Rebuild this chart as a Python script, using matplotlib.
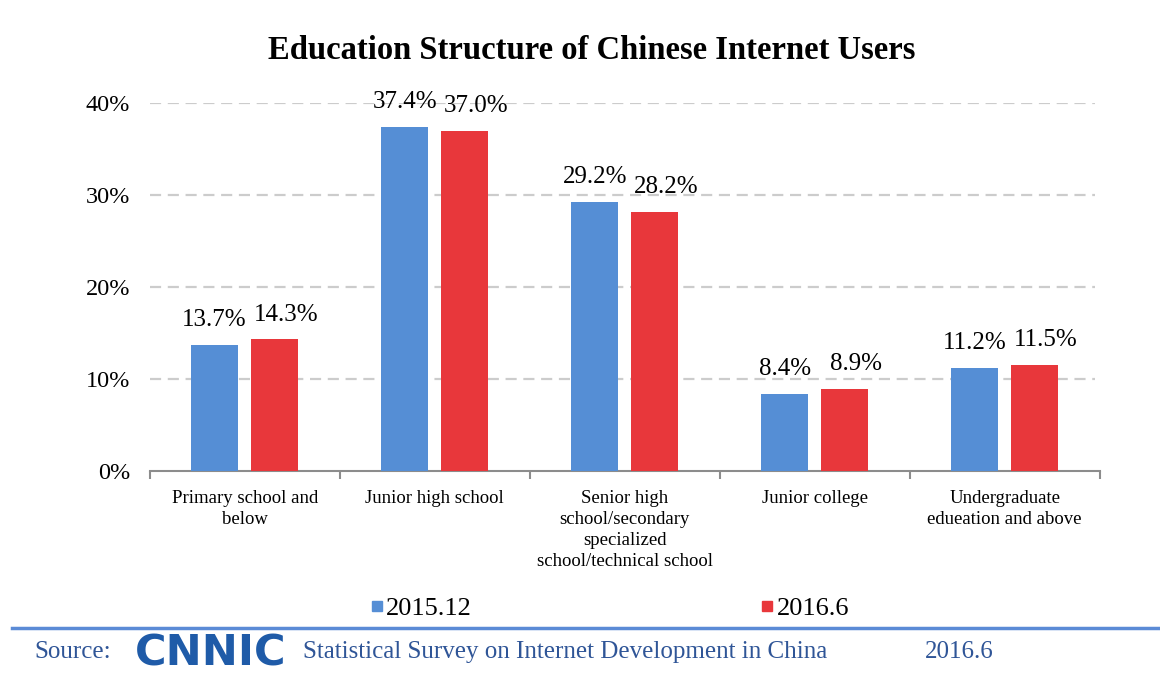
import numpy as np
import matplotlib.pyplot as plt
from matplotlib.lines import Line2D

categories = ["Primary school and\nbelow", "Junior high school",
              "Senior high\nschool/secondary\nspecialized\nschool/technical school",
              "Junior college", "Undergraduate\nedueation and above"]
series_names = ["2015.12", "2016.6"]
values_2015 = [13.7, 37.4, 29.2, 8.4, 11.2]
values_2016 = [14.3, 37.0, 28.2, 8.9, 11.5]
yticks = [0, 10, 20, 30, 40]

blue = "#558ED5"
red = "#E8373B"
footer_blue = "#2F5597"
serif = "Liberation Serif"

fig = plt.figure(figsize=(11.6, 6.76), dpi=100)
ax = fig.add_axes([0.129, 0.3033, 0.819, 0.5444])

x = np.arange(len(categories))
w = 0.245
off = 0.158
ax.bar(x - off, values_2015, w, color=blue, zorder=3)
ax.bar(x + off, values_2016, w, color=red, zorder=3)

# value labels (red ones sit a little to the right, as in the original)
for xi, v in zip(x, values_2015):
    ax.annotate(f"{v:.1f}%", (xi - off, v), xytext=(0, 10), textcoords="offset points",
                ha="center", va="bottom", fontsize=18, family=serif)
for xi, v in zip(x, values_2016):
    ax.annotate(f"{v:.1f}%", (xi + off, v), xytext=(8, 10), textcoords="offset points",
                ha="center", va="bottom", fontsize=18, family=serif)

ax.set_xlim(-0.5, len(categories) - 0.5)
ax.set_ylim(0, 40)
ax.set_yticks(yticks)
ax.set_yticklabels([f"{t}%" for t in yticks], family=serif, fontsize=17.5)
ax.tick_params(axis="y", length=0, pad=14)
for t in yticks[1:]:
    ax.axhline(t, xmax=0.995, color="#cccccc", lw=1.6, ls=(0, (5, 3)), zorder=1)

ax.set_xticks(x)
ax.set_xticklabels(categories, family=serif, fontsize=13.5, linespacing=1.3,
                   va="top")
ax.tick_params(axis="x", length=0, pad=14)
ax.set_xticks(np.arange(len(categories) + 1) - 0.5, minor=True)
ax.tick_params(axis="x", which="minor", length=6, width=1.5, color="#8c8c8c")

for s in ["top", "right", "left"]:
    ax.spines[s].set_visible(False)
ax.spines["bottom"].set_color("#8c8c8c")
ax.spines["bottom"].set_linewidth(1.5)

fig.text(0.51, 0.925, "Education Structure of Chinese Internet Users",
         ha="center", va="center", fontsize=23.5, fontweight="bold", family=serif)

handles = [Line2D([], [], marker="s", ls="", color=blue, markersize=7),
           Line2D([], [], marker="s", ls="", color=red, markersize=7)]
fig.legend(handles, series_names, loc="center", bbox_to_anchor=(0.525, 0.1),
           ncol=2, frameon=False, prop={"family": serif, "size": 19},
           handletextpad=0.05, columnspacing=10.9, handlelength=0.6)

fig.add_artist(Line2D([0.01, 1.0], [0.071, 0.071], color="#5B8BD6", lw=2.5,
                      transform=fig.transFigure))

fig.text(0.03, 0.035, "Source:", fontsize=18, family=serif, color=footer_blue,
         va="center")
fig.text(0.116, 0.034, "CNNIC", fontsize=31, fontweight="bold", family="DejaVu Sans",
         color="#1F5BA8", va="center")
fig.text(0.261, 0.035, "Statistical Survey on Internet Development in China",
         fontsize=18, family=serif, color=footer_blue, va="center")
fig.text(0.797, 0.035, "2016.6", fontsize=18, family=serif, color=footer_blue,
         va="center")

fig.savefig("out.png", dpi=100)
